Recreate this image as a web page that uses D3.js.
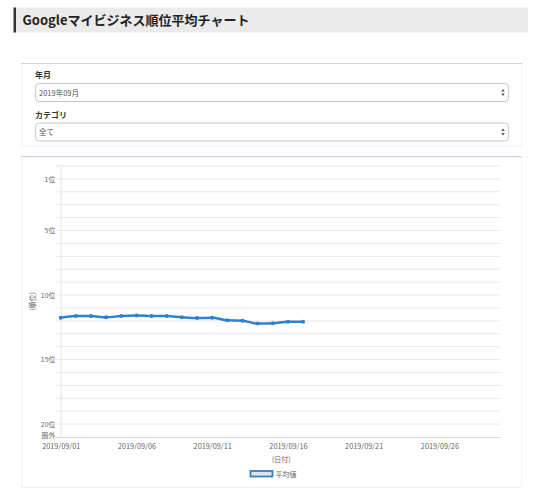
<!DOCTYPE html>
<html>
<head>
<meta charset="utf-8">
<script src="https://cdnjs.cloudflare.com/ajax/libs/d3/7.8.5/d3.min.js"></script>
<style>
  body { margin: 0; background: #fff; }
  svg text { font-family: "Noto Sans CJK JP", sans-serif; }
</style>
</head>
<body>
<div id="chart"></div>
<script>
// chart data
var dates = ['2019-09-01','2019-09-02','2019-09-03','2019-09-04','2019-09-05','2019-09-06',
  '2019-09-07','2019-09-08','2019-09-09','2019-09-10','2019-09-11','2019-09-12',
  '2019-09-13','2019-09-14','2019-09-15','2019-09-16','2019-09-17']
var avgRank = [11.75, 11.62, 11.62, 11.73, 11.62, 11.58, 11.62, 11.63, 11.72, 11.78,
  11.76, 11.96, 11.99, 12.21, 12.19, 12.07, 12.06]
var seriesName = '平均値'
var rankTicks = [1, 5, 10, 15, 20, 21]
var rankLabels = ['1位', '5位', '10位', '15位', '20位', '圏外']
var dateTicks = ['2019-09-01','2019-09-06','2019-09-11','2019-09-16','2019-09-21','2019-09-26']
var monthOptions = ['2019年09月']
var categoryOptions = ['全て']

var W = 547, H = 500
var parse = d3.timeParse('%Y-%m-%d')
var blue = '#2f80d1'

var svg = d3.select('#chart').append('svg')
  .attr('width', W)
  .attr('height', H)

// page header
svg.append('rect').attr('x', 14).attr('y', 7.5).attr('width', 514).attr('height', 25).attr('fill', '#ebebeb')
svg.append('rect').attr('x', 13.5).attr('y', 7.5).attr('width', 2.5).attr('height', 25).attr('fill', '#333')
svg.append('text').attr('x', 22.5).attr('y', 25)
  .attr('font-size', 13).attr('font-weight', 'bold').attr('fill', '#222')
  .text('Googleマイビジネス順位平均チャート')

// filter card
svg.append('line').attr('x1', 21).attr('x2', 522).attr('y1', 63.5).attr('y2', 63.5)
  .attr('stroke', '#cfd4de').attr('stroke-width', 1.2)
svg.append('line').attr('x1', 21).attr('x2', 522).attr('y1', 146).attr('y2', 146)
  .attr('stroke', '#eeeeee')
svg.append('line').attr('x1', 21.5).attr('x2', 21.5).attr('y1', 64).attr('y2', 146)
  .attr('stroke', '#f3f3f3')
svg.append('line').attr('x1', 521.5).attr('x2', 521.5).attr('y1', 64).attr('y2', 146)
  .attr('stroke', '#f3f3f3')

function selectBox(label, labelY, boxY, value) {
  svg.append('text').attr('x', 35).attr('y', labelY + 3)
    .attr('font-size', 8).attr('font-weight', 'bold').attr('fill', '#333').text(label)
  svg.append('rect').attr('x', 35.5).attr('y', boxY).attr('width', 473).attr('height', 18)
    .attr('rx', 3.5).attr('fill', '#fff').attr('stroke', '#c8c8c8')
  svg.append('text').attr('x', 39).attr('y', boxY + 12)
    .attr('font-size', 7.5).attr('fill', '#555').text(value)
  var ax = 503, ay = boxY + 9
  svg.append('path').attr('d', 'M' + (ax - 1.8) + ',' + (ay - 1) + 'L' + ax + ',' + (ay - 3.5) + 'L' + (ax + 1.8) + ',' + (ay - 1) + 'Z').attr('fill', '#555')
  svg.append('path').attr('d', 'M' + (ax - 1.8) + ',' + (ay + 1) + 'L' + ax + ',' + (ay + 3.5) + 'L' + (ax + 1.8) + ',' + (ay + 1) + 'Z').attr('fill', '#555')
}
selectBox('年月', 75, 83.5, monthOptions[0])
selectBox('カテゴリ', 114.5, 123, categoryOptions[0])

// chart card
svg.append('line').attr('x1', 21).attr('x2', 522).attr('y1', 156.7).attr('y2', 156.7)
  .attr('stroke', '#cfd4de').attr('stroke-width', 1.2)
svg.append('line').attr('x1', 21).attr('x2', 522).attr('y1', 487.3).attr('y2', 487.3)
  .attr('stroke', '#eeeeee')
svg.append('line').attr('x1', 21.5).attr('x2', 21.5).attr('y1', 157).attr('y2', 487)
  .attr('stroke', '#f3f3f3')
svg.append('line').attr('x1', 521.5).attr('x2', 521.5).attr('y1', 157).attr('y2', 487)
  .attr('stroke', '#f3f3f3')

var x = d3.scaleTime()
  .domain([parse('2019-09-01'), parse('2019-09-30')])
  .range([60.7, 500])
var y = d3.scaleLinear()
  .domain([0, 21])
  .range([166, 437])

// horizontal grid (one line per rank)
var g = svg.append('g')
g.selectAll('.grid')
  .data(d3.range(0, 21))
  .enter()
  .append('line')
  .attr('x1', 55.7).attr('x2', x.range()[1])
  .attr('y1', function (d) { return y(d) }).attr('y2', function (d) { return y(d) })
  .attr('stroke', '#e9e9e9')

// y axis
var yAxis = d3.axisLeft(y)
  .tickValues(rankTicks)
  .tickSize(0)
  .tickPadding(5.5)
  .tickFormat(function (d, i) { return rankLabels[i] })
var ya = svg.append('g').attr('transform', 'translate(60.7,0)').call(yAxis)
ya.select('.domain').attr('stroke', '#e3e3e3')
ya.selectAll('text').attr('font-size', 6.8).attr('fill', '#666')
  .attr('font-family', '"Noto Sans CJK JP", sans-serif')
ya.selectAll('.tick text').filter(function (d) { return d === 21 }).attr('dy', '0.1em')

// x axis
var xAxis = d3.axisBottom(x)
  .tickValues(dateTicks.map(parse))
  .tickSize(0)
  .tickPadding(6.5)
  .tickFormat(d3.timeFormat('%Y/%m/%d'))
var xa = svg.append('g').attr('transform', 'translate(0,' + y(21) + ')').call(xAxis)
xa.select('.domain').attr('stroke', '#d8d8d8').attr('d', 'M55.7,0.5H' + x.range()[1])
xa.selectAll('text').attr('font-size', 7.3).attr('fill', '#666')
  .attr('font-family', '"Noto Sans", sans-serif')

// axis titles
svg.append('text')
  .attr('transform', 'translate(33,' + ((y(0) + y(21)) / 2) + ') rotate(-90)')
  .attr('text-anchor', 'middle').attr('dy', '0.35em')
  .attr('font-size', 7).attr('fill', '#666').text('(順位)')
svg.append('text')
  .attr('x', (x.range()[0] + x.range()[1]) / 2 + 1).attr('y', 461.5)
  .attr('text-anchor', 'middle')
  .attr('font-size', 7).attr('fill', '#666').text('(日付)')

// series line
var data = dates.map(function (d, i) { return { date: parse(d), rank: avgRank[i] } })
var line = d3.line()
  .x(function (d) { return x(d.date) })
  .y(function (d) { return y(d.rank) })
  .curve(d3.curveMonotoneX)

svg.append('path')
  .datum(data)
  .attr('d', line)
  .attr('fill', 'none')
  .attr('stroke', blue)
  .attr('stroke-width', 2.5)

svg.selectAll('.pt')
  .data(data)
  .enter()
  .append('circle')
  .attr('cx', function (d) { return x(d.date) })
  .attr('cy', function (d) { return y(d.rank) })
  .attr('r', 2)
  .attr('fill', blue)

// legend
svg.append('rect').attr('x', 250.5).attr('y', 471).attr('width', 22).attr('height', 5.5)
  .attr('fill', '#e2e2e2').attr('stroke', blue).attr('stroke-width', 1.8)
svg.append('text').attr('x', 275.5).attr('y', 476.5)
  .attr('font-size', 7).attr('fill', '#666').text(seriesName)
</script>
</body>
</html>
